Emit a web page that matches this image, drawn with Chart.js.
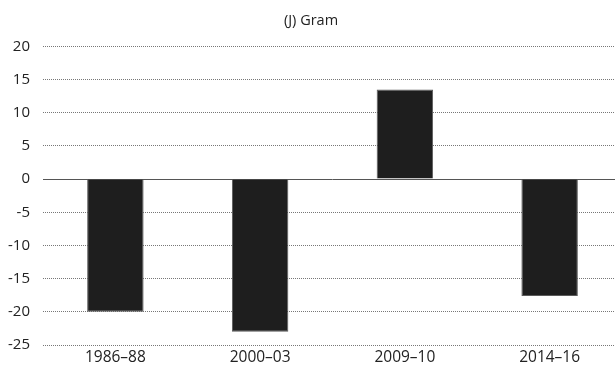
<!DOCTYPE html>
<html>
<head>
<meta charset="utf-8">
<script src="https://cdn.jsdelivr.net/npm/chart.js@4/dist/chart.umd.min.js"></script>
<style>
  html, body { margin: 0; padding: 0; background: #fff; overflow: hidden; }
  #wrap { width: 622px; height: 369px; }
</style>
</head>
<body>
<div id="wrap"><canvas id="gramChart"></canvas></div>
<script>
const periods = ["1986\u201388", "2000\u201303", "2009\u201310", "2014\u201316"];
const gramValues = [-20, -23, 13.5, -17.6];
const yTicks = [20, 15, 10, 5, 0, -5, -10, -15, -20, -25];

document.addEventListener("DOMContentLoaded", function () {
  const ctx = document.getElementById("gramChart").getContext("2d");
  new Chart(ctx, {
    type: "bar",
    data: {
      labels: periods,
      datasets: [
        {
          label: "Gram",
          data: gramValues,
          backgroundColor: "#1e1e1e",
          borderColor: "#5a5a5a",
          borderWidth: 1,
          barPercentage: 0.78,
          categoryPercentage: 0.5,
        },
      ],
    },
    options: {
      responsive: true,
      maintainAspectRatio: false,
      animation: false,
      layout: { padding: { left: 0, right: 0, top: 12, bottom: 0 } },
      plugins: {
        legend: { display: false },
        tooltip: { enabled: false },
        title: {
          display: true,
          text: "(J) Gram",
          color: "#222",
          font: { family: "Open Sans", size: 14.5, weight: "normal" },
          padding: { top: 0, bottom: 17 },
        },
      },
      scales: {
        x: {
          grid: { display: false, drawTicks: false },
          border: { display: false },
          afterFit: function (axis) {
            axis.height = 24;
          },
          ticks: {
            color: "#222",
            font: { family: "Open Sans", size: 15.5 },
            padding: 3,
          },
        },
        y: {
          min: -25,
          max: 20,
          afterBuildTicks: function (axis) {
            axis.ticks = yTicks.map((v) => ({ value: v }));
          },
          afterFit: function (axis) {
            axis.width = 43;
          },
          border: {
            display: false,
            dash: (c) => (c.tick && c.tick.value === 0 ? [] : [1, 1]),
          },
          grid: {
            drawTicks: false,
            color: (c) => (c.tick && c.tick.value === 0 ? "#555" : "#777"),
            lineWidth: 1,
          },
          ticks: {
            color: "#222",
            font: { family: "Open Sans", size: 15 },
            padding: 13,
          },
        },
      },
    },
  });
});
</script>
</body>
</html>
